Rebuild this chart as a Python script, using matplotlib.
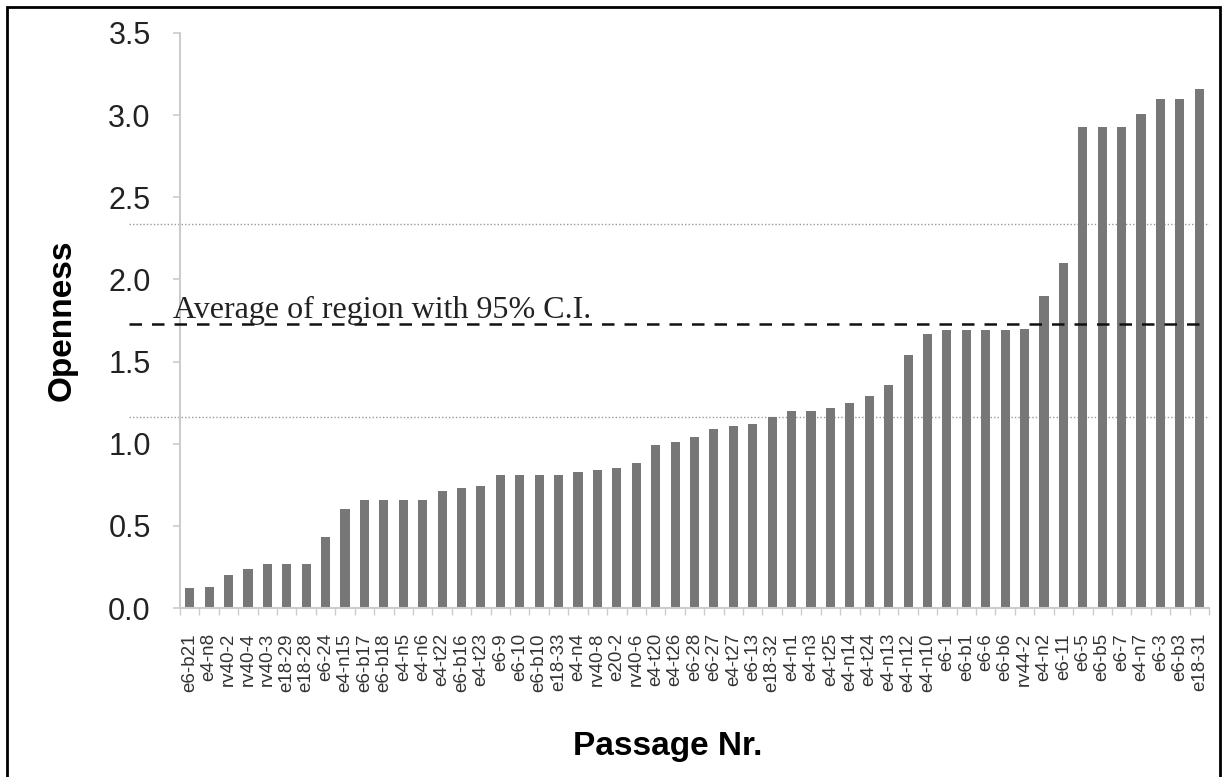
import matplotlib
matplotlib.use("Agg")
import matplotlib.pyplot as plt
from matplotlib.patches import Rectangle
from matplotlib.ticker import FixedLocator

# ---------------------------------------------------------
# Data
# ---------------------------------------------------------

passages = [
    "e6-b21", "e4-n8", "rv40-2", "rv40-4", "rv40-3", "e18-29", "e18-28",
    "e6-24", "e4-n15", "e6-b17", "e6-b18", "e4-n5", "e4-n6", "e4-t22",
    "e6-b16", "e4-t23", "e6-9", "e6-10", "e6-b10", "e18-33", "e4-n4",
    "rv40-8", "e20-2", "rv40-6", "e4-t20", "e4-t26", "e6-28", "e6-27",
    "e4-t27", "e6-13", "e18-32", "e4-n1", "e4-n3", "e4-t25", "e4-n14",
    "e4-t24", "e4-n13", "e4-n12", "e4-n10", "e6-1", "e6-b1", "e6-6",
    "e6-b6", "rv44-2", "e4-n2", "e6-11", "e6-5", "e6-b5", "e6-7", "e4-n7",
    "e6-3", "e6-b3", "e18-31",
]

openness = [
    0.12, 0.13, 0.20, 0.24, 0.27, 0.27, 0.27, 0.43, 0.60, 0.66, 0.66,
    0.66, 0.66, 0.71, 0.73, 0.74, 0.81, 0.81, 0.81, 0.81, 0.83, 0.84,
    0.85, 0.88, 0.99, 1.01, 1.04, 1.09, 1.11, 1.12, 1.16, 1.20, 1.20,
    1.22, 1.25, 1.29, 1.36, 1.54, 1.67, 1.69, 1.69, 1.69, 1.69, 1.70,
    1.90, 2.10, 2.93, 2.93, 2.93, 3.01, 3.10, 3.10, 3.16,
]

region_mean = 1.73
ci_low = 1.16
ci_high = 2.34

# ---------------------------------------------------------
# Figure
# ---------------------------------------------------------

W, H = 1223, 777
fig = plt.figure(figsize=(W / 100, H / 100), dpi=100)
fig.patch.set_facecolor("white")

ax_left, ax_right = 180, 1209
ax_top, ax_bottom = 33, 608
ax = fig.add_axes([
    ax_left / W,
    (H - ax_bottom) / H,
    (ax_right - ax_left) / W,
    (ax_bottom - ax_top) / H,
])

x = list(range(len(passages)))
ax.bar(x, openness, width=0.47, color="#777777", zorder=2)

ax.set_xlim(-0.5, len(passages) - 0.5)
ax.set_ylim(0, 3.5)

# reference lines run a bit left of the axis
line_x0 = -0.05
ax.plot([line_x0, 1.0], [ci_high, ci_high], transform=ax.get_yaxis_transform(),
        color="#999999", lw=1.0, ls=(0, (1, 1.5)), clip_on=False, zorder=1)
ax.plot([line_x0, 1.0], [ci_low, ci_low], transform=ax.get_yaxis_transform(),
        color="#999999", lw=1.0, ls=(0, (1, 1.5)), clip_on=False, zorder=1)
ax.plot([line_x0, 1.0], [region_mean, region_mean], transform=ax.get_yaxis_transform(),
        color="#111111", lw=1.8, ls=(0, (5, 4)), clip_on=False, zorder=3)

ax.text(-0.007, region_mean + 0.035, "Average of region with 95% C.I.",
        transform=ax.get_yaxis_transform(), fontsize=23,
        family="Liberation Serif", color="#222222", va="baseline", ha="left")

# axes styling
for side in ["top", "right"]:
    ax.spines[side].set_visible(False)
for side in ["left", "bottom"]:
    ax.spines[side].set_color("#cccccc")
    ax.spines[side].set_linewidth(1.5)

ax.set_yticks([0, 0.5, 1.0, 1.5, 2.0, 2.5, 3.0, 3.5])
ax.set_yticklabels(["0.0", "0.5", "1.0", "1.5", "2.0", "2.5", "3.0", "3.5"])
ax.tick_params(axis="y", direction="out", length=5, width=1.2, color="#cccccc",
               pad=16, labelsize=22, labelcolor="#222222")

ax.set_xticks(x)
ax.set_xticklabels(passages, rotation=90, family="Liberation Sans",
                   fontsize=13.5, color="#333333")
ax.tick_params(axis="x", which="major", length=0, pad=18)
ax.xaxis.set_minor_locator(FixedLocator([i + 0.5 for i in range(-1, len(passages))]))
ax.tick_params(axis="x", which="minor", direction="out", length=5, width=1.0,
               color="#cccccc")

for label in ax.get_yticklabels():
    label.set_family("Liberation Sans")

fig.text(62 / W, 1 - 320 / H, "Openness", rotation=90, fontsize=24,
         fontweight="bold", family="Liberation Sans", ha="center", va="center")
fig.text(668 / W, 1 - 746 / H, "Passage Nr.", fontsize=24,
         fontweight="bold", family="Liberation Sans", ha="center", va="center")

# outer frame
frame = Rectangle((7 / W, -0.01), (1220 - 7) / W, 1 - 7 / H + 0.01,
                  transform=fig.transFigure, fill=False, edgecolor="black",
                  linewidth=2.0)
fig.patches.append(frame)

fig.savefig("out.png", dpi=100)
